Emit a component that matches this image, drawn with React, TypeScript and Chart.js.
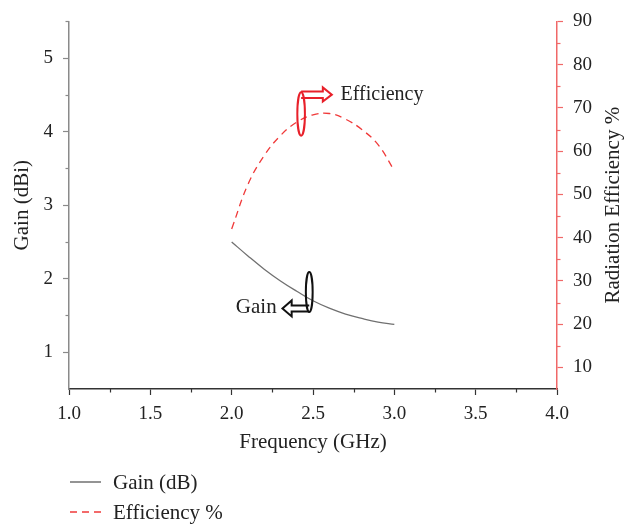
import React, { useEffect, useRef } from 'react';
import { Chart, registerables } from 'chart.js';

Chart.register(...registerables);

// ---- data ----
const FREQ = [2.0, 2.1, 2.2, 2.3, 2.4, 2.5, 2.6, 2.7, 2.8, 2.9, 3.0];
const GAIN = [2.5, 2.31, 2.13, 1.97, 1.83, 1.7, 1.6, 1.52, 1.46, 1.41, 1.38];
const EFF = [42, 52.3, 59, 63.6, 66.7, 68.4, 68.7, 67.4, 65, 61.5, 55.5];

const X_TICKS = [1.0, 1.5, 2.0, 2.5, 3.0, 3.5, 4.0];
const X_MINOR = [1.25, 1.75, 2.25, 2.75, 3.25, 3.75];
const GAIN_TICKS = [1, 2, 3, 4, 5];
const GAIN_MINOR = [1.5, 2.5, 3.5, 4.5, 5.5];
const EFF_TICKS = [10, 20, 30, 40, 50, 60, 70, 80, 90];
const EFF_MINOR = [15, 25, 35, 45, 55, 65, 75, 85];

const SERIES_LABELS = ['Gain (dB)', 'Efficiency %'];
const AXIS_TITLES = { x: 'Frequency (GHz)', y: 'Gain (dBi)', y1: 'Radiation Efficiency %' };

// annotation anchors in data coordinates
const EFF_NOTE = { x: 2.427, y: 68.6, text: 'Efficiency' };
const GAIN_NOTE = { x: 2.477, y: 1.818, text: 'Gain' };

const FONT = 'Liberation Serif';
const TEXT = '#222222';
const GRAY_AXIS = '#8a8a8a';
const DARK_AXIS = '#333333';
const RED_AXIS = '#f06868';
const GAIN_COLOR = '#707070';
const EFF_COLOR = '#f03a3a';

export default function App() {
  const ref = useRef<HTMLCanvasElement>(null);

  useEffect(() => {
    document.body.style.margin = '0';
    const canvas = ref.current;
    if (!canvas) return;

    const setTicks = (vals: number[]) => (scale: any) => {
      scale.ticks = vals.map((v) => ({ value: v }));
    };

    const extras = {
      id: 'extras',
      afterDraw(chart: any) {
        const { ctx, chartArea, scales } = chart;
        const ca = chartArea;
        ctx.save();
        // minor ticks
        ctx.lineWidth = 1.2;
        ctx.strokeStyle = DARK_AXIS;
        X_MINOR.forEach((v) => {
          const px = Math.round(scales.x.getPixelForValue(v)) + 0.5;
          ctx.beginPath();
          ctx.moveTo(px, ca.bottom);
          ctx.lineTo(px, ca.bottom + 3.5);
          ctx.stroke();
        });
        ctx.strokeStyle = GRAY_AXIS;
        GAIN_MINOR.forEach((v) => {
          const py = Math.round(scales.y.getPixelForValue(v)) + 0.5;
          ctx.beginPath();
          ctx.moveTo(ca.left - 3.5, py);
          ctx.lineTo(ca.left, py);
          ctx.stroke();
        });
        ctx.strokeStyle = RED_AXIS;
        EFF_MINOR.forEach((v) => {
          const py = Math.round(scales.y1.getPixelForValue(v)) + 0.5;
          ctx.beginPath();
          ctx.moveTo(ca.right, py);
          ctx.lineTo(ca.right + 3.5, py);
          ctx.stroke();
        });

        // right axis title (reads bottom-to-top)
        ctx.fillStyle = TEXT;
        ctx.font = `21px "${FONT}"`;
        ctx.textAlign = 'center';
        ctx.textBaseline = 'middle';
        ctx.save();
        ctx.translate(613, (ca.top + ca.bottom) / 2);
        ctx.rotate(-Math.PI / 2);
        ctx.fillText(AXIS_TITLES.y1, 0, 0);
        ctx.restore();

        // Efficiency annotation
        {
          const cx = scales.x.getPixelForValue(EFF_NOTE.x);
          const cy = scales.y1.getPixelForValue(EFF_NOTE.y);
          ctx.strokeStyle = '#e8202a';
          ctx.lineWidth = 2;
          ctx.beginPath();
          ctx.ellipse(cx, cy, 3.8, 21.7, 0, 0, Math.PI * 2);
          ctx.stroke();
          const top = cy - 22.5, bot = cy - 16, hTop = cy - 26.5, hBot = cy - 12.5, tip = cy - 19.3;
          ctx.beginPath();
          ctx.moveTo(cx, top);
          ctx.lineTo(cx + 21.7, top);
          ctx.lineTo(cx + 21.7, hTop);
          ctx.lineTo(cx + 30.7, tip);
          ctx.lineTo(cx + 21.7, hBot);
          ctx.lineTo(cx + 21.7, bot);
          ctx.lineTo(cx, bot);
          ctx.stroke();
          ctx.fillStyle = TEXT;
          ctx.font = `20px "${FONT}"`;
          ctx.textAlign = 'left';
          ctx.textBaseline = 'alphabetic';
          ctx.fillText(EFF_NOTE.text, cx + 39.4, cy - 13.5);
        }
        // Gain annotation
        {
          const cx = scales.x.getPixelForValue(GAIN_NOTE.x);
          const cy = scales.y.getPixelForValue(GAIN_NOTE.y);
          ctx.strokeStyle = '#111111';
          ctx.lineWidth = 2;
          ctx.beginPath();
          ctx.ellipse(cx, cy, 3.4, 20, 0, 0, Math.PI * 2);
          ctx.stroke();
          const top = cy + 13.3, bot = cy + 19.3, hTop = cy + 8.3, hBot = cy + 24.3, tip = cy + 16.3;
          ctx.beginPath();
          ctx.moveTo(cx, top);
          ctx.lineTo(cx - 17.6, top);
          ctx.lineTo(cx - 17.6, hTop);
          ctx.lineTo(cx - 26.8, tip);
          ctx.lineTo(cx - 17.6, hBot);
          ctx.lineTo(cx - 17.6, bot);
          ctx.lineTo(cx, bot);
          ctx.stroke();
          ctx.fillStyle = TEXT;
          ctx.font = `21px "${FONT}"`;
          ctx.textAlign = 'right';
          ctx.textBaseline = 'alphabetic';
          ctx.fillText(GAIN_NOTE.text, cx - 32.6, cy + 20.5);
        }

        // legend (stacked, bottom-left)
        chart.data.datasets.forEach((ds: any, i: number) => {
          const y = 482 + i * 30;
          ctx.strokeStyle = ds.borderColor;
          ctx.lineWidth = 1.5;
          ctx.setLineDash(ds.borderDash || []);
          ctx.beginPath();
          ctx.moveTo(70, y);
          ctx.lineTo(101, y);
          ctx.stroke();
          ctx.setLineDash([]);
          ctx.fillStyle = TEXT;
          ctx.font = `21px "${FONT}"`;
          ctx.textAlign = 'left';
          ctx.textBaseline = 'middle';
          ctx.fillText(ds.label, 113, y + 1);
        });
        ctx.restore();
      },
    };

    const chart = new Chart(canvas, {
      type: 'line',
      data: {
        datasets: [
          {
            label: SERIES_LABELS[0],
            data: FREQ.map((f, i) => ({ x: f, y: GAIN[i] })),
            yAxisID: 'y',
            borderColor: GAIN_COLOR,
            borderWidth: 1.3,
            pointRadius: 0,
            tension: 0.4,
            fill: false,
          },
          {
            label: SERIES_LABELS[1],
            data: FREQ.map((f, i) => ({ x: f, y: EFF[i] })),
            yAxisID: 'y1',
            borderColor: EFF_COLOR,
            borderWidth: 1.3,
            borderDash: [7, 5],
            pointRadius: 0,
            tension: 0.4,
            fill: false,
          },
        ],
      },
      options: {
        responsive: false,
        animation: false,
        layout: { padding: { top: 16, left: 0, right: 0, bottom: 0 } },
        plugins: { legend: { display: false }, tooltip: { enabled: false } },
        scales: {
          x: {
            type: 'linear',
            min: 1,
            max: 4,
            afterBuildTicks: setTicks(X_TICKS),
            afterFit: (s: any) => { s.height = 137; },
            grid: { drawOnChartArea: false, drawTicks: true, tickLength: 6, tickColor: DARK_AXIS, tickWidth: 1.2 },
            border: { color: DARK_AXIS, width: 1.5 },
            ticks: {
              font: { family: FONT, size: 19 },
              color: TEXT,
              padding: 8,
              autoSkip: false,
              maxRotation: 0,
              callback: (v: any) => Number(v).toFixed(1),
            },
            title: {
              display: true,
              text: AXIS_TITLES.x,
              font: { family: FONT, size: 21 },
              color: TEXT,
              padding: { top: 0, bottom: 71 },
            },
          },
          y: {
            type: 'linear',
            position: 'left',
            min: 0.5,
            max: 5.5,
            afterBuildTicks: setTicks(GAIN_TICKS),
            afterFit: (s: any) => { s.width = 69; },
            grid: { drawOnChartArea: false, drawTicks: true, tickLength: 6, tickColor: GRAY_AXIS, tickWidth: 1.2 },
            border: { color: GRAY_AXIS, width: 1.5 },
            ticks: {
              font: { family: FONT, size: 19 },
              color: TEXT,
              padding: 10,
              autoSkip: false,
              callback: (v: any) => String(v),
            },
            title: {
              display: true,
              text: AXIS_TITLES.y,
              font: { family: FONT, size: 21 },
              color: TEXT,
              padding: { top: 10, bottom: 0 },
            },
          },
          y1: {
            type: 'linear',
            position: 'right',
            min: 5,
            max: 90,
            afterBuildTicks: setTicks(EFF_TICKS),
            afterFit: (s: any) => { s.width = 67; },
            grid: { drawOnChartArea: false, drawTicks: true, tickLength: 6, tickColor: RED_AXIS, tickWidth: 1.2 },
            border: { color: RED_AXIS, width: 1.5 },
            ticks: {
              font: { family: FONT, size: 19 },
              color: TEXT,
              padding: 10,
              autoSkip: false,
              callback: (v: any) => String(v),
            },
          },
        },
      } as any,
      plugins: [extras],
    });

    return () => chart.destroy();
  }, []);

  return (
    <div style={{ position: 'absolute', left: 0, top: 0, width: 624, height: 526 }}>
      <canvas ref={ref} width={624} height={526} style={{ display: 'block' }} />
    </div>
  );
}
